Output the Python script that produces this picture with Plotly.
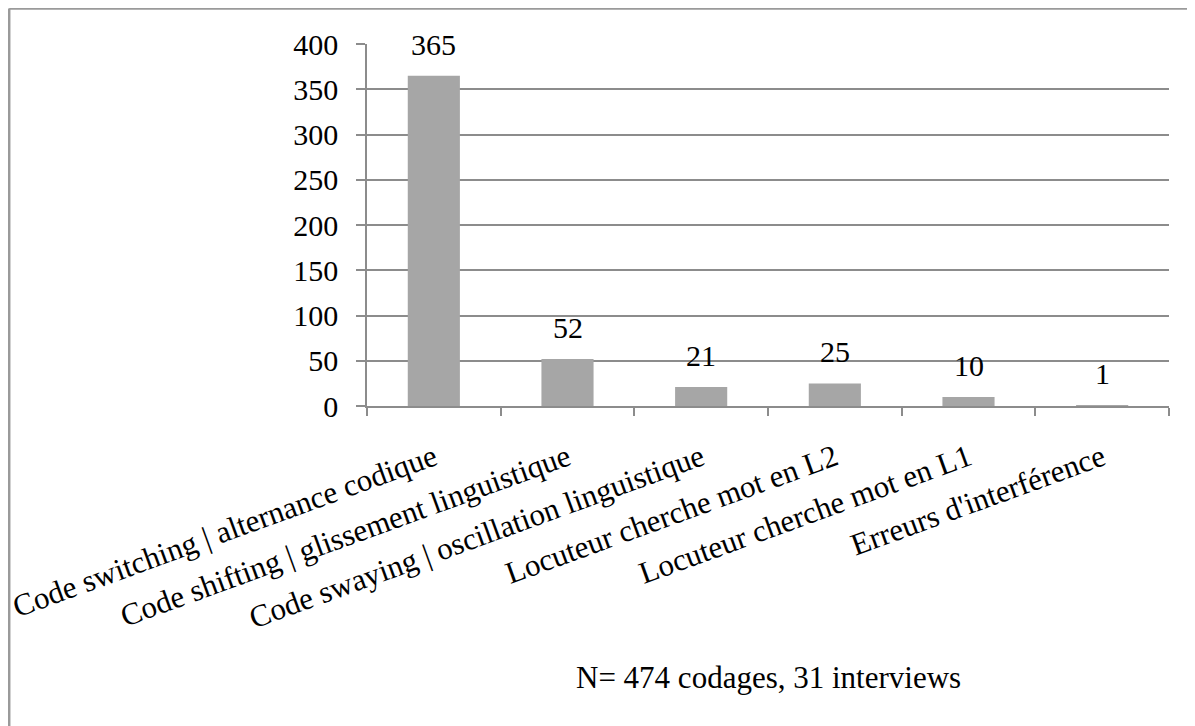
import plotly.graph_objects as go

categories = [
    "Code switching | alternance codique",
    "Code shifting | glissement linguistique",
    "Code swaying | oscillation linguistique",
    "Locuteur cherche mot en L2",
    "Locuteur cherche mot en L1",
    "Erreurs d'interférence",
]
values = [365, 52, 21, 25, 10, 1]
y_ticks = [0, 50, 100, 150, 200, 250, 300, 350, 400]
note = "N= 474 codages, 31 interviews"

FONT = "Liberation Serif, Times New Roman, serif"
GRID = "#8c8c8c"
FS = 30
FS_CAT = 31

# page body has an 8px margin; compensate so marks land where the reference has them
OFF = 8
W, H = 1195, 726
L, T = 367 - OFF, 44 - OFF
R = W - (1169 - OFF)
B = H - (406 - OFF)
pw, ph = W - L - R, H - T - B

fig = go.Figure()
fig.add_trace(go.Bar(
    x=categories, y=values,
    marker=dict(color="#a6a6a6", line=dict(width=0)),
    width=0.39,
    showlegend=False,
))

for c, v in zip(categories, values):
    fig.add_annotation(x=c, y=v, text=str(v), showarrow=False,
                       yanchor="bottom", yshift=13,
                       font=dict(family=FONT, size=FS, color="#000"))

fig.add_annotation(xref="paper", yref="paper", x=0.5, y=(406 - 677) / ph,
                   text=note, showarrow=False, xanchor="center", yanchor="middle",
                   font=dict(family=FONT, size=FS_CAT, color="#000"))

# outer border (left and top)
bx = (1.2 - L) / pw
by = 1 + (T - (8.5 - OFF)) / ph
fig.add_shape(type="line", xref="paper", yref="paper", x0=bx, x1=bx, y0=-1.2, y1=by,
              line=dict(color="#9a9a9a", width=2.5))
fig.add_shape(type="line", xref="paper", yref="paper", x0=bx, x1=1.2, y0=by, y1=by,
              line=dict(color="#9a9a9a", width=2.5))

fig.update_layout(
    width=W, height=H,
    margin=dict(l=L, r=R, t=T, b=B, autoexpand=False),
    paper_bgcolor="white", plot_bgcolor="white",
    font=dict(family=FONT, size=FS, color="#000"),
    bargap=0.61,
)
fig.update_xaxes(
    type="category",
    tickangle=-20,
    ticks="outside", tickson="boundaries", ticklen=8, tickcolor=GRID, tickwidth=1.5,
    showline=True, linecolor=GRID, linewidth=1.5,
    showgrid=False,
    ticklabelstandoff=20,
    tickfont=dict(family=FONT, size=FS_CAT, color="#000"),
    automargin=False,
)
fig.update_yaxes(
    range=[0, 400], tickvals=y_ticks,
    ticks="outside", ticklen=9, tickcolor=GRID, tickwidth=1.5,
    showline=True, linecolor=GRID, linewidth=1.5,
    showgrid=True, gridcolor=GRID, gridwidth=1.5,
    zeroline=False,
    ticklabelstandoff=12,
    tickfont=dict(family=FONT, size=FS, color="#000"),
    automargin=False,
)

fig.write_html("out.html")
